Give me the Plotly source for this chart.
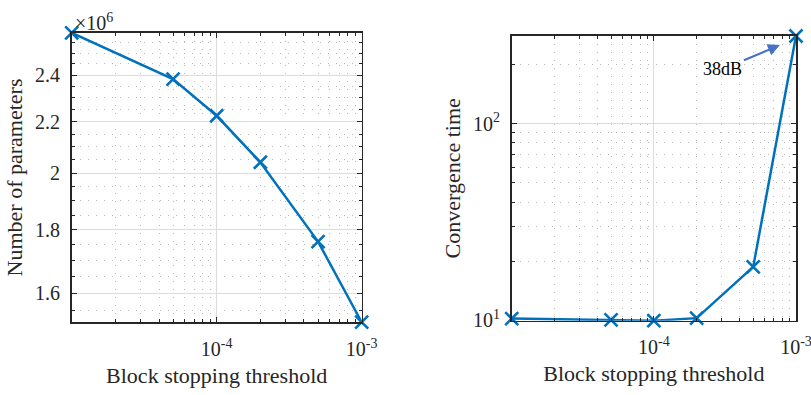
import math
import plotly.graph_objects as go

# ---------------- data ----------------
thresholds = [1e-5, 5e-5, 1e-4, 2e-4, 5e-4, 1e-3]
num_params = [2.596e6, 2.382e6, 2.225e6, 2.041e6, 1.761e6, 1.516e6]
conv_time = [10.2, 10.05, 9.95, 10.25, 18.7, 280.0]

x_tickvals = [1e-4, 1e-3]
x_ticktext = ["10<sup>-4</sup>", "10<sup>-3</sup>"]
params_tickvals = [1.6e6, 1.8e6, 2.0e6, 2.2e6, 2.4e6]
params_ticktext = ["1.6", "1.8", "2", "2.2", "2.4"]
time_tickvals = [10, 100]
time_ticktext = ["10<sup>1</sup>", "10<sup>2</sup>"]
annotation_text = "38dB"
x_title = "Block stopping threshold"
y1_title = "Number of parameters"
y2_title = "Convergence time"

# ---------------- styling ----------------
W, H = 811, 395
LINE_COLOR = "#0072BD"
AX_COLOR = "#262626"
MAJ_GRID = "#dcdcdc"
MIN_GRID = "#b8b8b8"
FONT = "Liberation Serif"
EPS = 1e-4

x_minor = [k * 10.0 ** e for e in (-5, -4) for k in range(2, 10)]
p_minor = [v * 1e6 for v in [1.55, 1.65, 1.7, 1.75, 1.85, 1.9, 1.95, 2.05, 2.1, 2.15,
                               2.25, 2.3, 2.35, 2.45, 2.5, 2.55]]
t_minor = [20, 30, 40, 50, 60, 70, 80, 90, 200]

L1 = (71.7, 361.7, 32.7, 322.3)
L2 = (511.7, 796.0, 36.0, 320.7)


def xdom(b):
    return [b[0] / W, b[1] / W]


def ydom(b):
    return [1 - b[3] / H, 1 - b[2] / H]


def lrange(vals):
    return [math.log10(min(vals)) - EPS, math.log10(max(vals)) + EPS]


fig = go.Figure()
trace_style = dict(
    mode="lines+markers",
    line=dict(color=LINE_COLOR, width=2.5),
    marker=dict(symbol="x-thin", size=13, line=dict(color=LINE_COLOR, width=2.6)),
    cliponaxis=False,
    showlegend=False,
    hoverinfo="skip",
)
fig.add_trace(go.Scatter(x=thresholds, y=num_params, xaxis="x", yaxis="y", **trace_style))
fig.add_trace(go.Scatter(x=thresholds, y=conv_time, xaxis="x2", yaxis="y2", **trace_style))

tickfont = dict(family=FONT, size=20, color=AX_COLOR)
titlefont = dict(family=FONT, size=22, color=AX_COLOR)


def minor(vals):
    return dict(tickmode="array", tickvals=vals, ticks="inside", ticklen=3,
                tickcolor=AX_COLOR, tickwidth=1, showgrid=True, gridcolor=MIN_GRID,
                griddash="1px,7px", gridwidth=1)


common = dict(
    type="log", showline=True, linecolor=AX_COLOR, linewidth=1.6, mirror="allticks",
    ticks="inside", ticklen=5, tickcolor=AX_COLOR, tickwidth=1,
    showgrid=True, gridcolor=MAJ_GRID, gridwidth=1, zeroline=False,
    tickfont=tickfont, tickmode="array", automargin=False, ticklabeloverflow="allow",
)

fig.update_layout(
    template="none",
    width=W, height=H, margin=dict(l=0, r=0, t=0, b=0, pad=0),
    paper_bgcolor="white", plot_bgcolor="white", showlegend=False,
    font=dict(family=FONT, color=AX_COLOR),
    xaxis=dict(domain=xdom(L1), anchor="y", range=lrange(thresholds), tickvals=x_tickvals,
               ticktext=x_ticktext, minor=minor(x_minor), ticklabelstandoff=8,
               title=dict(text=x_title, font=titlefont, standoff=8), **common),
    yaxis=dict(domain=ydom(L1), anchor="x", range=lrange(num_params),
               tickvals=params_tickvals, ticktext=params_ticktext, minor=minor(p_minor),
               ticklabelstandoff=6,
               title=dict(text=y1_title, font=titlefont, standoff=6), **common),
    xaxis2=dict(domain=xdom(L2), anchor="y2", range=lrange(thresholds), tickvals=x_tickvals,
                ticktext=x_ticktext, minor=minor(x_minor), ticklabelstandoff=8,
                title=dict(text=x_title, font=titlefont, standoff=8), **common),
    yaxis2=dict(domain=ydom(L2), anchor="x2", range=lrange(conv_time),
                tickvals=time_tickvals, ticktext=time_ticktext, minor=minor(t_minor),
                ticklabelstandoff=6,
                title=dict(text=y2_title, font=titlefont, standoff=6), **common),
)

fig.add_annotation(
    xref="paper", yref="paper", x=73 / W, y=1 - 22 / H, xanchor="left", yanchor="middle",
    text="×10<sup>6</sup>", showarrow=False, font=dict(family=FONT, size=20, color=AX_COLOR),
)

fig.add_annotation(
    xref="x2", yref="y2", x=-3.113, y=2.401,
    text=annotation_text, showarrow=True, ax=-57, ay=24,
    arrowhead=2, arrowsize=1.2, arrowwidth=2, arrowcolor="#4472C4",
    font=dict(family=FONT, size=18, color="black"),
)

fig.write_html(
    "out.html",
    config={"displayModeBar": False, "staticPlot": True},
    post_script="document.body.style.margin='0';document.body.style.overflow='hidden';",
)
